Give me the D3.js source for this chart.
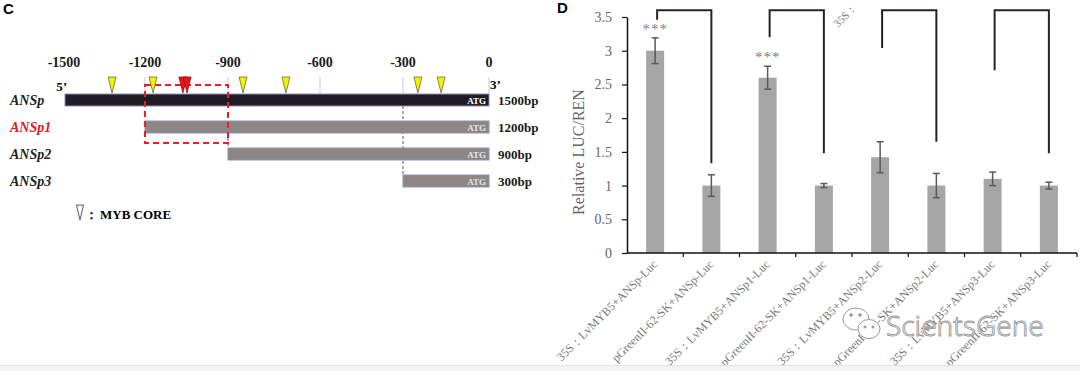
<!DOCTYPE html>
<html>
<head>
<meta charset="utf-8">
<script src="https://cdn.jsdelivr.net/npm/d3@7"></script>
<style>
  body { margin: 0; background: #fff; }
  svg { display: block; }
</style>
</head>
<body>
<script>
// ---- panel C data ----
var promoterTicks = [-1500, -1200, -900, -600, -300, 0];
var constructs = ['ANSp', 'ANSp1', 'ANSp2', 'ANSp3'];
var constructStart = [-1500, -1200, -900, -300];
var constructLen = ['1500bp', '1200bp', '900bp', '300bp'];
var mybYellow = [-1322, -1171, -851, -711, -248, -167];
var mybRed = [-1063, -1048];

// ---- panel D data ----
var samples = [
  '35S：LvMYB5+ANSp-Luc', 'pGreenII-62-SK+ANSp-Luc',
  '35S：LvMYB5+ANSp1-Luc', 'pGreenII-62-SK+ANSp1-Luc',
  '35S：LvMYB5+ANSp2-Luc', 'pGreenII-62-SK+ANSp2-Luc',
  '35S：LvMYB5+ANSp3-Luc', 'pGreenII-62-SK+ANSp3-Luc'
];
var lucRen = [3.0, 1.0, 2.6, 1.0, 1.42, 1.0, 1.10, 1.0];
var lucErr = [0.19, 0.16, 0.17, 0.03, 0.23, 0.18, 0.10, 0.05];
var stars = ['***', '', '***', '', '', '', '', ''];
var yTicks = [0, 0.5, 1, 1.5, 2, 2.5, 3, 3.5];
var bracketTop = 3.6;
var bracketLeftEnd = [3.46, 3.20, 3.04, 2.71];
var bracketRightEnd = [1.33, 1.48, 1.65, 1.48];

var serif = '"Liberation Serif", "Times New Roman", serif';
var sans = '"Liberation Sans", Arial, sans-serif';

var svg = d3.select('body').append('svg')
  .attr('width', 1080).attr('height', 371);

// ================= panel C =================
var gC = svg.append('g');

gC.append('text').attr('x', 3).attr('y', 14)
  .attr('font-family', sans).attr('font-weight', 'bold').attr('font-size', 15)
  .text('C');

// the original figure is not quite linear, so map each tick
var px = d3.scaleLinear().domain(promoterTicks).range([64, 145, 228, 320, 403, 489]);
var rowY = d3.scalePoint().domain(constructs).range([100, 181]);
var barH = 12;

gC.selectAll('.tickline').data(promoterTicks.slice(1)).enter().append('line')
  .attr('x1', function (d) { return px(d); }).attr('x2', function (d) { return px(d); })
  .attr('y1', 77).attr('y2', 94)
  .attr('stroke', '#c5c9de').attr('stroke-width', 1);

gC.selectAll('.ticklab').data(promoterTicks).enter().append('text')
  .attr('x', function (d) { return px(d); }).attr('y', 67)
  .attr('text-anchor', 'middle')
  .attr('font-family', serif).attr('font-weight', 'bold').attr('font-size', 14)
  .attr('fill', '#1a1a1a')
  .text(function (d) { return d; });

gC.append('text').attr('x', 67).attr('y', 91).attr('text-anchor', 'end')
  .attr('font-family', serif).attr('font-weight', 'bold').attr('font-size', 13)
  .text('5’');
gC.append('text').attr('x', 490).attr('y', 89)
  .attr('font-family', serif).attr('font-weight', 'bold').attr('font-size', 13)
  .text('3’');

// dark dashed guide lines
gC.append('line').attr('x1', px(-300)).attr('x2', px(-300))
  .attr('y1', rowY('ANSp') + barH / 2).attr('y2', rowY('ANSp3') - barH / 2)
  .attr('stroke', '#555').attr('stroke-dasharray', '3,2');
gC.append('line').attr('x1', px(-900)).attr('x2', px(-900))
  .attr('y1', rowY('ANSp1') + barH / 2).attr('y2', rowY('ANSp2') - barH / 2)
  .attr('stroke', '#555').attr('stroke-dasharray', '3,2');

constructs.forEach(function (c, i) {
  var y = rowY(c);
  var dark = i === 0;
  gC.append('rect')
    .attr('x', px(constructStart[i]) + (dark ? 1 : 0)).attr('y', y - barH / 2)
    .attr('width', px(0) - px(constructStart[i]) - (dark ? 1 : 0)).attr('height', barH)
    .attr('fill', dark ? '#231b23' : '#8e8683')
    .attr('stroke', '#8a90c2').attr('stroke-width', 1);
  gC.append('text').attr('x', px(0) - 3).attr('y', y + 3.5)
    .attr('text-anchor', 'end')
    .attr('font-family', serif).attr('font-weight', 'bold').attr('font-size', 9)
    .attr('fill', dark ? '#fff' : '#e6e6e6')
    .text('ATG');
  gC.append('text').attr('x', 10).attr('y', y + 5)
    .attr('font-family', serif).attr('font-weight', 'bold').attr('font-style', 'italic')
    .attr('font-size', 14)
    .attr('fill', i === 1 ? '#e8141b' : '#231f20')
    .text(c);
  gC.append('text').attr('x', 498).attr('y', y + 5)
    .attr('font-family', serif).attr('font-weight', 'bold').attr('font-size', 13)
    .attr('fill', '#1a1a1a')
    .text(constructLen[i]);
});

// red dashed box around ANSp1 extra region
gC.append('rect')
  .attr('x', px(-1200)).attr('y', 85)
  .attr('width', px(-900) - px(-1200)).attr('height', 58)
  .attr('fill', 'none').attr('stroke', '#ee1c25').attr('stroke-width', 2)
  .attr('stroke-dasharray', '6,4');

function tri(x, top, w, h) {
  return 'M' + (x - w / 2) + ',' + top + 'L' + (x + w / 2) + ',' + top + 'L' + x + ',' + (top + h) + 'Z';
}
gC.selectAll('.myb').data(mybYellow).enter().append('path')
  .attr('d', function (d) { return tri(px(d), 77, 8, 16); })
  .attr('fill', '#f2f200').attr('stroke', '#6b6b3a').attr('stroke-width', 0.8);
gC.selectAll('.mybr').data(mybRed).enter().append('path')
  .attr('d', function (d) { return tri(px(d), 77, 8, 16); })
  .attr('fill', '#e8141b').attr('stroke', '#9a1010').attr('stroke-width', 0.8);

// legend
gC.append('path').attr('d', tri(80, 205, 7, 15))
  .attr('fill', '#fff').attr('stroke', '#333').attr('stroke-width', 0.8);
gC.append('text').attr('x', 85).attr('y', 219)
  .attr('font-family', serif).attr('font-weight', 'bold').attr('font-size', 13)
  .text('：');
gC.append('text').attr('x', 100).attr('y', 219)
  .attr('font-family', serif).attr('font-weight', 'bold').attr('font-size', 13)
  .text('MYB CORE');

// ================= panel D =================
var gD = svg.append('g');

gD.append('text').attr('x', 557).attr('y', 13)
  .attr('font-family', sans).attr('font-weight', 'bold').attr('font-size', 15)
  .text('D');

var x = d3.scaleBand().domain(samples).range([627, 1077])
  .paddingInner(0.68).paddingOuter(0.34);
var y = d3.scaleLinear().domain([0, 3.5]).range([253, 17]);
function cx(i) { return x(samples[i]) + x.bandwidth() / 2; }

var yAxis = gD.append('g').attr('transform', 'translate(627,0)')
  .call(d3.axisLeft(y).tickValues(yTicks).tickSize(5).tickSizeOuter(0).tickPadding(10)
    .tickFormat(function (d) { return String(d); }));
yAxis.select('.domain').attr('stroke', '#111').attr('stroke-width', 1.5);
yAxis.selectAll('.tick line').attr('stroke', '#111').attr('stroke-width', 1.2);
yAxis.selectAll('.tick text').attr('font-family', serif).attr('font-size', 14)
  .attr('fill', '#666');

gD.append('text')
  .attr('transform', 'translate(584,' + ((y(0) + y(3.5)) / 2 + 17) + ') rotate(-90)')
  .attr('text-anchor', 'middle')
  .attr('font-family', serif).attr('font-size', 16).attr('fill', '#666')
  .text('Relative LUC/REN');

gD.selectAll('.bar').data(lucRen).enter().append('rect')
  .attr('x', function (d, i) { return x(samples[i]); })
  .attr('y', function (d) { return y(d); })
  .attr('width', x.bandwidth())
  .attr('height', function (d) { return y(0) - y(d); })
  .attr('fill', '#a6a6a6');

// x axis line and boundary ticks
gD.append('line').attr('x1', 627).attr('x2', 1077).attr('y1', y(0)).attr('y2', y(0))
  .attr('stroke', '#111').attr('stroke-width', 1.5);
gD.selectAll('.xt').data(samples).enter().append('line')
  .attr('x1', function (d) { return x(d) + x.bandwidth() / 2 + x.step() / 2; })
  .attr('x2', function (d) { return x(d) + x.bandwidth() / 2 + x.step() / 2; })
  .attr('y1', y(0)).attr('y2', y(0) + 4)
  .attr('stroke', '#111').attr('stroke-width', 1.2);

// error bars
lucRen.forEach(function (v, i) {
  var c = cx(i), t = y(v + lucErr[i]), b = y(v - lucErr[i]);
  var eg = gD.append('g').attr('stroke', '#5a5a5a').attr('stroke-width', 1.5);
  eg.append('line').attr('x1', c).attr('x2', c).attr('y1', t).attr('y2', b);
  eg.append('line').attr('x1', c - 3.5).attr('x2', c + 3.5).attr('y1', t).attr('y2', t);
  eg.append('line').attr('x1', c - 3.5).attr('x2', c + 3.5).attr('y1', b).attr('y2', b);
  if (stars[i]) {
    gD.append('text').attr('x', c).attr('y', t - 4)
      .attr('text-anchor', 'middle').attr('letter-spacing', 1)
      .attr('font-family', serif).attr('font-size', 15).attr('fill', '#808080')
      .text(stars[i]);
  }
});

// significance brackets
bracketLeftEnd.forEach(function (v, k) {
  var xl = cx(2 * k) + 2, xr = cx(2 * k + 1);
  gD.append('path')
    .attr('d', 'M' + xl + ',' + y(v) + 'V' + y(bracketTop) + 'H' + xr + 'V' + y(bracketRightEnd[k]))
    .attr('fill', 'none').attr('stroke', '#2a2222').attr('stroke-width', 2);
});

// rotated sample labels
gD.selectAll('.xl').data(samples).enter().append('text')
  .attr('transform', function (d) {
    return 'translate(' + (x(d) + x.bandwidth() / 2 + 3) + ',' + (y(0) + 12) + ') rotate(-45)';
  })
  .attr('text-anchor', 'end')
  .attr('font-family', serif).attr('font-size', 12).attr('fill', '#7a7a7a')
  .text(function (d) { return d; });

// stray label fragment at the top of the figure
gD.append('text').attr('transform', 'translate(838,28) rotate(-45)')
  .attr('font-family', serif).attr('font-size', 11).attr('fill', '#7a7a7a')
  .text('35S：');

// watermark
var wm = svg.append('g').attr('fill', '#fff').attr('stroke', '#9a9a9a').attr('stroke-width', 1);
wm.append('ellipse').attr('cx', 856).attr('cy', 319).attr('rx', 13).attr('ry', 11);
wm.append('ellipse').attr('cx', 869).attr('cy', 329).attr('rx', 11).attr('ry', 9.5);
wm.append('circle').attr('cx', 851).attr('cy', 315).attr('r', 1.3).attr('fill', '#9a9a9a');
wm.append('circle').attr('cx', 860).attr('cy', 315).attr('r', 1.3).attr('fill', '#9a9a9a');
wm.append('circle').attr('cx', 865).attr('cy', 327).attr('r', 1.1).attr('fill', '#9a9a9a');
wm.append('circle').attr('cx', 873).attr('cy', 327).attr('r', 1.1).attr('fill', '#9a9a9a');
wm.append('text').attr('x', 886).attr('y', 336)
  .attr('font-family', '"Noto Sans", "DejaVu Sans", sans-serif').attr('font-weight', 300)
  .attr('font-size', 28).attr('stroke-width', 0.9)
  .text('ScientsGene');

// bottom strip
svg.append('rect').attr('x', 0).attr('y', 365).attr('width', 1080).attr('height', 6)
  .attr('fill', '#f3f3f3');
svg.append('line').attr('x1', 0).attr('x2', 1080).attr('y1', 365.5).attr('y2', 365.5)
  .attr('stroke', '#e3e3e3');
</script>
</body>
</html>
